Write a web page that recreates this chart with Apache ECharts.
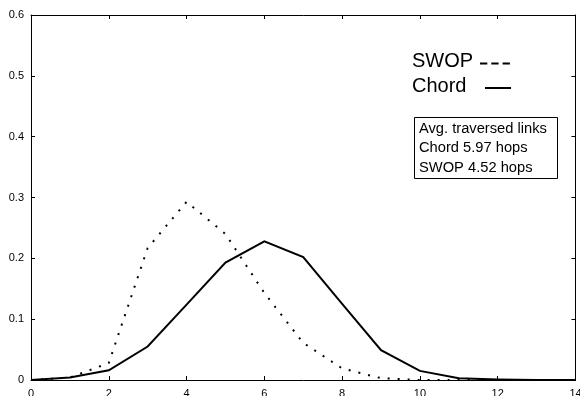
<!DOCTYPE html>
<html>
<head>
<meta charset="utf-8">
<script src="https://cdn.jsdelivr.net/npm/echarts@6/dist/echarts.min.js"></script>
<style>
html,body{margin:0;padding:0;background:#fff;}
#chart{width:580px;height:396px;}
</style>
</head>
<body>
<div id="chart"></div>
<script>
// hop counts (x values)
var hops = [0, 1, 2, 3, 4, 5, 6, 7, 8, 9, 10, 11, 12, 13, 14];
// fraction of lookups per hop count
var chordValues = [0.0, 0.004, 0.016, 0.055, 0.124, 0.193, 0.228, 0.202, 0.125, 0.049, 0.015, 0.003, 0.001, 0.0, 0.0];
var swopValues  = [0.0, 0.004, 0.028, 0.217, 0.293, 0.240, 0.143, 0.061, 0.019, 0.003, 0.0, 0.0, 0.0, 0.0, 0.0];
// tick labels
var xTickLabels = ['0', '2', '4', '6', '8', '10', '12', '14'];
var yTickLabels = ['0', '0.1', '0.2', '0.3', '0.4', '0.5', '0.6'];
// legend / annotation texts
var legendNames = ['SWOP', 'Chord'];
var boxLines = ['Avg. traversed links', 'Chord 5.97 hops', 'SWOP 4.52 hops'];

function pairs(xs, ys) {
  return xs.map(function (x, i) { return [x, ys[i]]; });
}

var chart = echarts.init(document.getElementById('chart'), null, {renderer: 'canvas'});
var FONT = 'Liberation Sans, Arial, sans-serif';

var axisCommon = {
  axisLine: {show: true, onZero: false, lineStyle: {color: '#000', width: 1}},
  axisTick: {show: true, inside: true, length: 4, lineStyle: {color: '#000', width: 1}},
  splitLine: {show: false}
};

var option = {
  backgroundColor: '#fff',
  animation: false,
  grid: {left: 31, right: 4.5, top: 15, bottom: 16, containLabel: false, outerBoundsMode: 'none'},
  xAxis: [
    Object.assign({
      type: 'value', min: 0, max: 14, interval: 2, position: 'bottom',
      axisLabel: {
        color: '#000', fontFamily: FONT, fontSize: 11, margin: 8,
        formatter: function (v) { return xTickLabels[Math.round(v / 2)]; }
      }
    }, axisCommon),
    Object.assign({
      type: 'value', min: 0, max: 14, interval: 2, position: 'top',
      axisLabel: {show: false}
    }, axisCommon)
  ],
  yAxis: [
    Object.assign({
      type: 'value', min: 0, max: 0.6, interval: 0.1, position: 'left',
      axisLabel: {
        color: '#000', fontFamily: FONT, fontSize: 11, margin: 7,
        formatter: function (v) { return yTickLabels[Math.round(v * 10)]; }
      }
    }, axisCommon),
    Object.assign({
      type: 'value', min: 0, max: 0.6, interval: 0.1, position: 'right',
      axisLabel: {show: false}
    }, axisCommon)
  ],
  series: [
    {
      name: legendNames[1], type: 'line', xAxisIndex: 0, yAxisIndex: 0,
      data: pairs(hops, chordValues), symbol: 'none', smooth: false,
      lineStyle: {color: '#000', width: 2, join: 'miter'}
    },
    {
      name: legendNames[0], type: 'line', xAxisIndex: 0, yAxisIndex: 0,
      data: pairs(hops, swopValues), symbol: 'none', smooth: false,
      lineStyle: {color: '#000', width: 2, type: [2, 8], cap: 'butt'}
    }
  ],
  graphic: [
    {type: 'text', left: 412, top: 51.5, style: {text: legendNames[0], font: '20px ' + FONT, fill: '#000'}},
    {type: 'line', shape: {x1: 480, y1: 63.5, x2: 510, y2: 63.5}, style: {stroke: '#000', lineWidth: 2, lineDash: [7.3, 4]}},
    {type: 'text', left: 412, top: 76, style: {text: legendNames[1], font: '20px ' + FONT, fill: '#000'}},
    {type: 'line', shape: {x1: 485, y1: 88, x2: 511, y2: 88}, style: {stroke: '#000', lineWidth: 2}},
    {type: 'rect', shape: {x: 414.5, y: 117.5, width: 143, height: 61}, style: {fill: '#fff', stroke: '#000', lineWidth: 1}},
    {type: 'text', left: 419, top: 121, style: {text: boxLines[0], font: '14.7px ' + FONT, fill: '#000'}},
    {type: 'text', left: 419, top: 140.7, style: {text: boxLines[1], font: '14.7px ' + FONT, fill: '#000'}},
    {type: 'text', left: 419, top: 160.5, style: {text: boxLines[2], font: '14.7px ' + FONT, fill: '#000'}}
  ]
};
chart.setOption(option);
</script>
</body>
</html>
